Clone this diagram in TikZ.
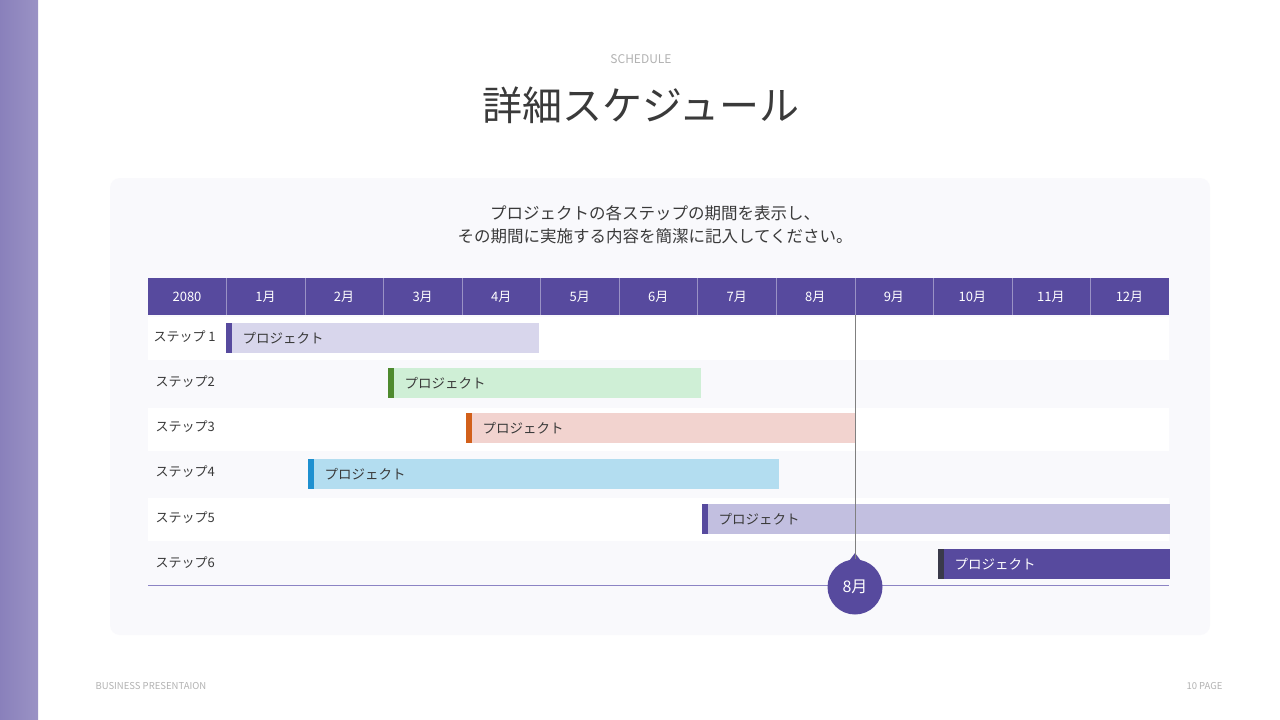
\documentclass[tikz,border=0pt]{standalone}
\usepackage{fontspec}
\setmainfont{Noto Sans CJK JP}
\definecolor{hdr}{HTML}{574A9E}
\definecolor{panel}{HTML}{F9F9FC}
\definecolor{txt}{HTML}{3A3A3A}
\definecolor{tl}{HTML}{8C84C4}
\definecolor{f1}{HTML}{D8D6EC}\definecolor{f2}{HTML}{CFEFD6}\definecolor{f3}{HTML}{F2D3CF}
\definecolor{f4}{HTML}{B3DDF0}\definecolor{f5}{HTML}{C2BFE0}
\definecolor{m2}{HTML}{4E8A2E}\definecolor{m3}{HTML}{D2601A}\definecolor{m4}{HTML}{1E90D0}\definecolor{m6}{HTML}{3A3A4A}
\tikzset{x=1pt,y=-1pt,
 lbl/.style={font=\fontsize{13}{15}\selectfont,text=txt,anchor=west},
 mon/.style={font=\fontsize{13}{15}\selectfont,text=white},
 bartext/.style={font=\fontsize{13.5}{15}\selectfont,text=txt,anchor=west}}
\newcommand\gbar[6]{%
 \fill[#5] (#1,{#3-15}) rectangle (#2,{#3+15});
 \fill[#4] (#1,{#3-15}) rectangle ({#1+6},{#3+15});
 \node[bartext] (#6) at ({#1+13},#3) {プロジェクト};}
\begin{document}
\begin{tikzpicture}
\useasboundingbox (0,0) rectangle (1280,720);
\fill[white] (0,0) rectangle (1280,720);
\shade[left color=hdr!70,right color=hdr!60] (0,0) rectangle (38,720);
\node[font=\fontsize{12}{14}\selectfont,text=black!30] (sub) at (641,59) {SCHEDULE};
\node[font=\fontsize{40}{44}\selectfont,text=txt] (title) at (641,105) {詳細スケジュール};
\fill[panel,rounded corners=10pt] (110,178) rectangle (1210,635);
\node[font=\fontsize{16.5}{23}\selectfont,text=txt,align=center] (desc) at (655,225) {プロジェクトの各ステップの期間を表示し、\\その期間に実施する内容を簡潔に記入してください。};
\foreach \i/\c in {0/white,1/panel,2/white,3/panel,4/white,5/panel}
  \fill[\c] (148,{317+\i*45.3}) rectangle (1169,{360+\i*45.3});
\fill[hdr] (148,278) rectangle (1169,315);
\foreach \k in {1,...,12} \draw[white!40!hdr,line width=0.6pt] ({148+\k*78.54},278) -- ({148+\k*78.54},315);
\node[mon] (h0) at (187,297) {2080};
\foreach \k in {1,...,12} \node[mon] (h\k) at ({187+\k*78.54},297) {\k 月};
\node[lbl] (s1) at (150,337) {ステップ 1};
\node[lbl] (s2) at (152,382) {ステップ2};
\node[lbl] (s3) at (152,427) {ステップ3};
\node[lbl] (s4) at (152,472) {ステップ4};
\node[lbl] (s5) at (152,518) {ステップ5};
\node[lbl] (s6) at (152,563) {ステップ6};
\gbar{226}{539}{338}{hdr}{f1}{b1}
\gbar{388}{701}{383}{m2}{f2}{b2}
\gbar{466}{855}{428}{m3}{f3}{b3}
\gbar{308}{779}{474}{m4}{f4}{b4}
\gbar{702}{1170}{519}{hdr}{f5}{b5}
\fill[hdr] (938,549) rectangle (1170,579);
\fill[m6] (938,549) rectangle (944,579);
\node[bartext,text=white] (b6) at (951,564) {プロジェクト};
\draw[tl,line width=0.8pt] (148,585) -- (1169,585);
\node[circle,fill=hdr,minimum size=55pt,inner sep=0pt,font=\fontsize{16}{18}\selectfont,text=white] (m) at (855,587) {8月};
\fill[hdr] (849,561) -- (861,561) -- (855,553) -- cycle;
\draw[black!50,line width=1pt] (855,315) -- (m.north);
\node[font=\fontsize{9.5}{11}\selectfont,text=black!30,anchor=west] (ft1) at (92,686) {BUSINESS PRESENTAION};
\node[font=\fontsize{9.5}{11}\selectfont,text=black!30,anchor=east] (ft2) at (1226,686) {10 PAGE};
\end{tikzpicture}
\end{document}
